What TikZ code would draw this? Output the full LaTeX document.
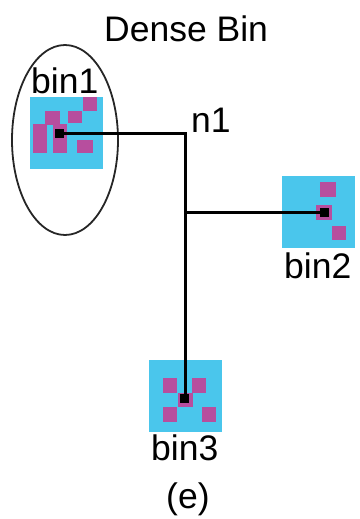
\documentclass[tikz,border=0pt]{standalone}
\usepackage{fontspec}
\setmainfont{Liberation Sans}
\definecolor{bincyan}{RGB}{74,198,236}
\definecolor{cellmag}{RGB}{183,78,158}
\begin{document}
\begin{tikzpicture}[x=1pt,y=-1pt,
  binbox/.style={fill=bincyan,draw=none,minimum width=73pt,minimum height=72pt,inner sep=0pt},
  cell/.style={fill=cellmag,draw=none},
  dot/.style={fill=black,draw=none,minimum size=9pt,inner sep=0pt},
  label/.style={font=\fontsize{35.5}{40}\selectfont,inner sep=0pt,anchor=base west},
  wire/.style={line width=3pt,black}]
\useasboundingbox (0,0) rectangle (359,519);

% the dense bin and its outline
\draw[line width=1.8pt,black!85] (65,140) ellipse [x radius=53, y radius=95];
\node[binbox] (bin1) at (66,132.5) {};
\fill[cell] (83,97) rectangle (97,111);
\fill[cell] (45,111) rectangle (60,125);
\fill[cell] (68,111) rectangle (82,123);
\fill[cell] (33,124) rectangle (47,153);
\fill[cell] (53,124) rectangle (67,153);
\fill[cell] (77,140) rectangle (93,153);
\node[dot] (d1) at (59,133) {};

% bin2
\node[binbox] (bin2) at (318.5,211.5) {};
\fill[cell] (320,182) rectangle (336,197);
\fill[cell] (316,205) rectangle (332,220);
\fill[cell] (332,226) rectangle (346,240);
\node[dot] (d2) at (324,212) {};

% bin3
\node[binbox] (bin3) at (185,396) {};
\fill[cell] (163,378) rectangle (177,393);
\fill[cell] (192,378) rectangle (206,393);
\fill[cell] (178,393) rectangle (193,407);
\fill[cell] (163,407) rectangle (177,422);
\fill[cell] (202,407) rectangle (216,422);
\node[dot] (d3) at (184.5,398.5) {};

% tree wiring
\coordinate (n1) at (185,133);
\coordinate (j) at (185,212);
\draw[wire] (d1.center) -- (n1) -- (185,398.5) -- (d3.center);
\draw[wire] (j) -- (d2.center);

% labels
\node[label] (tDense) at (104,42) {Dense Bin};
\node[label] (tn1) at (191,132) {n1};
\node[label] (t1) at (31,93) {bin1};
\node[label] (t2) at (284,278) {bin2};
\node[label] (t3) at (151,460) {bin3};
\node[label] (te) at (166,508) {(e)};
\end{tikzpicture}
\end{document}
